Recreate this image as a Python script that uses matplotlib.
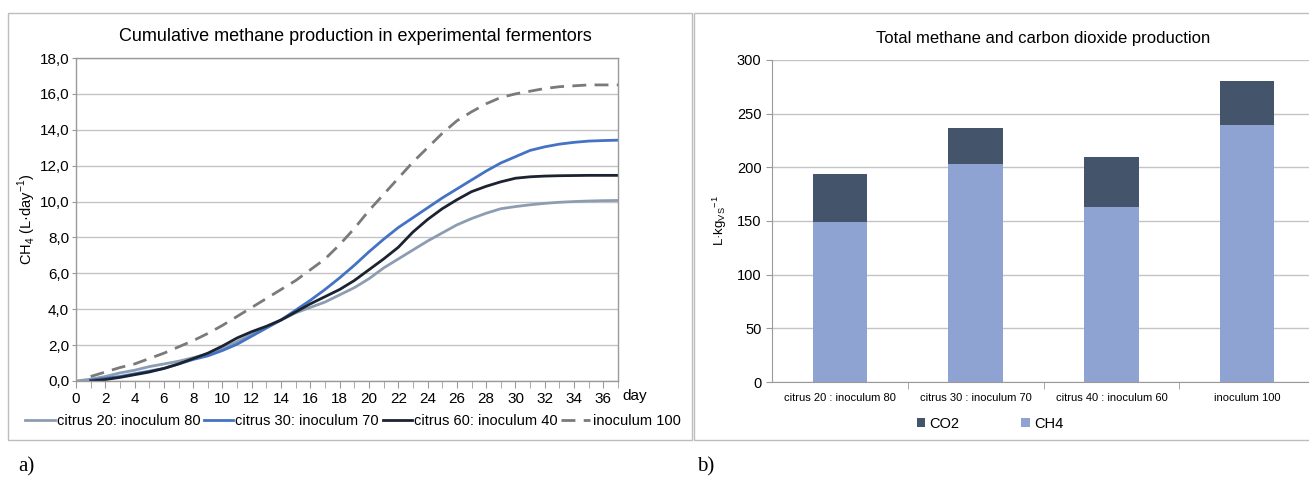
import matplotlib
matplotlib.use("Agg")
import matplotlib.pyplot as plt
from matplotlib.patches import Rectangle
from matplotlib.ticker import MultipleLocator, FuncFormatter

plt.rcParams['font.family'] = ['Liberation Sans', 'DejaVu Sans']

# ---------------- data: panel a ----------------
days_c20 = list(range(0, 38))
citrus20 = [0.0, 0.1, 0.25, 0.45, 0.6, 0.8, 0.95, 1.1, 1.3, 1.5, 1.8, 2.2, 2.6, 3.0, 3.4,
            3.8, 4.1, 4.4, 4.8, 5.2, 5.7, 6.3, 6.8, 7.3, 7.8, 8.25, 8.7, 9.05, 9.35, 9.6,
            9.72, 9.82, 9.9, 9.96, 10.0, 10.03, 10.05, 10.06]
days = list(range(1, 38))
citrus30 = [0.05, 0.15, 0.25, 0.4, 0.55, 0.7, 0.95, 1.2, 1.4, 1.7, 2.05, 2.5, 2.95, 3.4,
            3.95, 4.5, 5.1, 5.75, 6.45, 7.2, 7.9, 8.55, 9.1, 9.65, 10.2, 10.7, 11.2, 11.7,
            12.15, 12.5, 12.85, 13.05, 13.2, 13.3, 13.37, 13.4, 13.42]
citrus60 = [0.0, 0.08, 0.2, 0.35, 0.5, 0.7, 0.95, 1.25, 1.55, 1.95, 2.4, 2.75, 3.05, 3.4,
            3.85, 4.3, 4.7, 5.1, 5.6, 6.2, 6.8, 7.45, 8.3, 9.0, 9.6, 10.1, 10.55, 10.85,
            11.1, 11.3, 11.38, 11.42, 11.44, 11.45, 11.46, 11.46, 11.46]
inoc100 = [0.25, 0.5, 0.75, 0.95, 1.25, 1.55, 1.9, 2.25, 2.65, 3.1, 3.6, 4.1, 4.6, 5.1,
           5.6, 6.2, 6.8, 7.6, 8.5, 9.5, 10.4, 11.3, 12.2, 13.0, 13.8, 14.5, 15.0, 15.45,
           15.8, 16.0, 16.15, 16.3, 16.4, 16.45, 16.5, 16.5, 16.5]
series_labels = ["citrus 20: inoculum 80", "citrus 30: inoculum 70",
                 "citrus 60: inoculum 40", "inoculum 100"]

# ---------------- data: panel b ----------------
categories = ["citrus 20 : inoculum 80", "citrus 30 : inoculum 70",
              "citrus 40 : inoculum 60", "inoculum 100"]
ch4 = [149, 203, 163, 239]
co2 = [45, 34, 47, 41]

W, H = 1309, 480
fig = plt.figure(figsize=(W / 100, H / 100), dpi=100)

def fx(px):
    return px / W

def fy(py):
    return 1 - py / H

# panel frames
frame_col = '#bdbdbd'
fig.patches.append(Rectangle((fx(8), fy(440)), fx(684), 427 / H, transform=fig.transFigure,
                             fill=False, edgecolor=frame_col, lw=1.0))
fig.patches.append(Rectangle((fx(694), fy(440)), fx(640), 427 / H, transform=fig.transFigure,
                             fill=False, edgecolor=frame_col, lw=1.0))

# ---------------- panel a ----------------
ax = fig.add_axes([fx(76), fy(381), fx(542), 323 / H])
c_gray, c_blue, c_black, c_dash = '#8c9db2', '#4472c4', '#1b2330', '#7a7a7a'
ax.plot(days_c20, citrus20, color=c_gray, lw=2.0, label=series_labels[0])
ax.plot(days, citrus30, color=c_blue, lw=2.0, label=series_labels[1])
ax.plot(days, citrus60, color=c_black, lw=2.0, label=series_labels[2])
ax.plot(days, inoc100, color=c_dash, lw=2.0, ls=(0, (5, 3)), label=series_labels[3])
ax.set_xlim(0, 37)
ax.set_ylim(0, 18)
ax.xaxis.set_major_locator(MultipleLocator(2))
ax.xaxis.set_minor_locator(MultipleLocator(1))
ax.yaxis.set_major_locator(MultipleLocator(2))
ax.yaxis.set_major_formatter(FuncFormatter(lambda v, p: f"{v:.1f}".replace('.', ',')))
ax.grid(axis='y', color='#c4c4c4', lw=1.0)
ax.set_axisbelow(True)
for s in ax.spines.values():
    s.set_color('#9a9a9a')
    s.set_linewidth(1.0)
ax.tick_params(axis='x', which='both', direction='out', length=5, color='#9a9a9a',
               labelsize=11, pad=3)
ax.tick_params(axis='y', direction='out', length=3, color='#9a9a9a', labelsize=11, pad=2)
ax.set_ylabel("CH$_\\mathregular{4}$ (L·day$^\\mathregular{-1}$)", fontsize=10.5, labelpad=1)
ax.set_title("Cumulative methane production in experimental fermentors", fontsize=13,
             pad=12, x=0.515)
fig.text(fx(622), fy(396), "day", fontsize=11, ha='left', va='center')
fig.legend(handles=ax.get_lines(), labels=series_labels, loc='center',
           bbox_to_anchor=(fx(353), fy(421)), ncol=4, frameon=False, fontsize=10.5,
           handlelength=2.0, handletextpad=0.15, columnspacing=0.25)

# ---------------- panel b ----------------
bx = fig.add_axes([fx(772), fy(382), fx(543), 322 / H])
xpos = list(range(len(categories)))
b_ch4 = bx.bar(xpos, ch4, width=0.4, color='#8fa3d3', label='CH4')
b_co2 = bx.bar(xpos, co2, width=0.4, bottom=ch4, color='#44546a', label='CO2')
bx.set_xlim(-0.5, 3.5)
bx.set_ylim(0, 300)
bx.yaxis.set_major_locator(MultipleLocator(50))
bx.grid(axis='y', color='#c4c4c4', lw=1.0)
bx.set_axisbelow(True)
bx.set_xticks(xpos)
bx.set_xticklabels(categories, fontsize=8)
bx.set_xticks([0.5, 1.5, 2.5], minor=True)
bx.tick_params(axis='x', which='major', length=0, pad=8)
bx.tick_params(axis='x', which='minor', length=5, color='#9a9a9a')
bx.tick_params(axis='y', direction='out', length=4, color='#9a9a9a', labelsize=10.5)
for k in ['top', 'right']:
    bx.spines[k].set_visible(False)
for k in ['left', 'bottom']:
    bx.spines[k].set_color('#9a9a9a')
bx.set_ylabel("L·kg$_\\mathregular{VS}$$^\\mathregular{-1}$", fontsize=9.5, labelpad=6)
bx.set_title("Total methane and carbon dioxide production", fontsize=12, pad=12)
fig.legend(handles=[b_co2, b_ch4], labels=['CO2', 'CH4'], loc='center',
           bbox_to_anchor=(fx(990), fy(424)), ncol=2, frameon=False, fontsize=10.5,
           handlelength=0.6, handleheight=0.6, handletextpad=0.3, columnspacing=4.2)

# panel letters
fig.text(fx(18), fy(467), "a)", family=['Liberation Serif'], fontsize=15, va='center')
fig.text(fx(697), fy(467), "b)", family=['Liberation Serif'], fontsize=15, va='center')

fig.savefig("out.png", dpi=100)
